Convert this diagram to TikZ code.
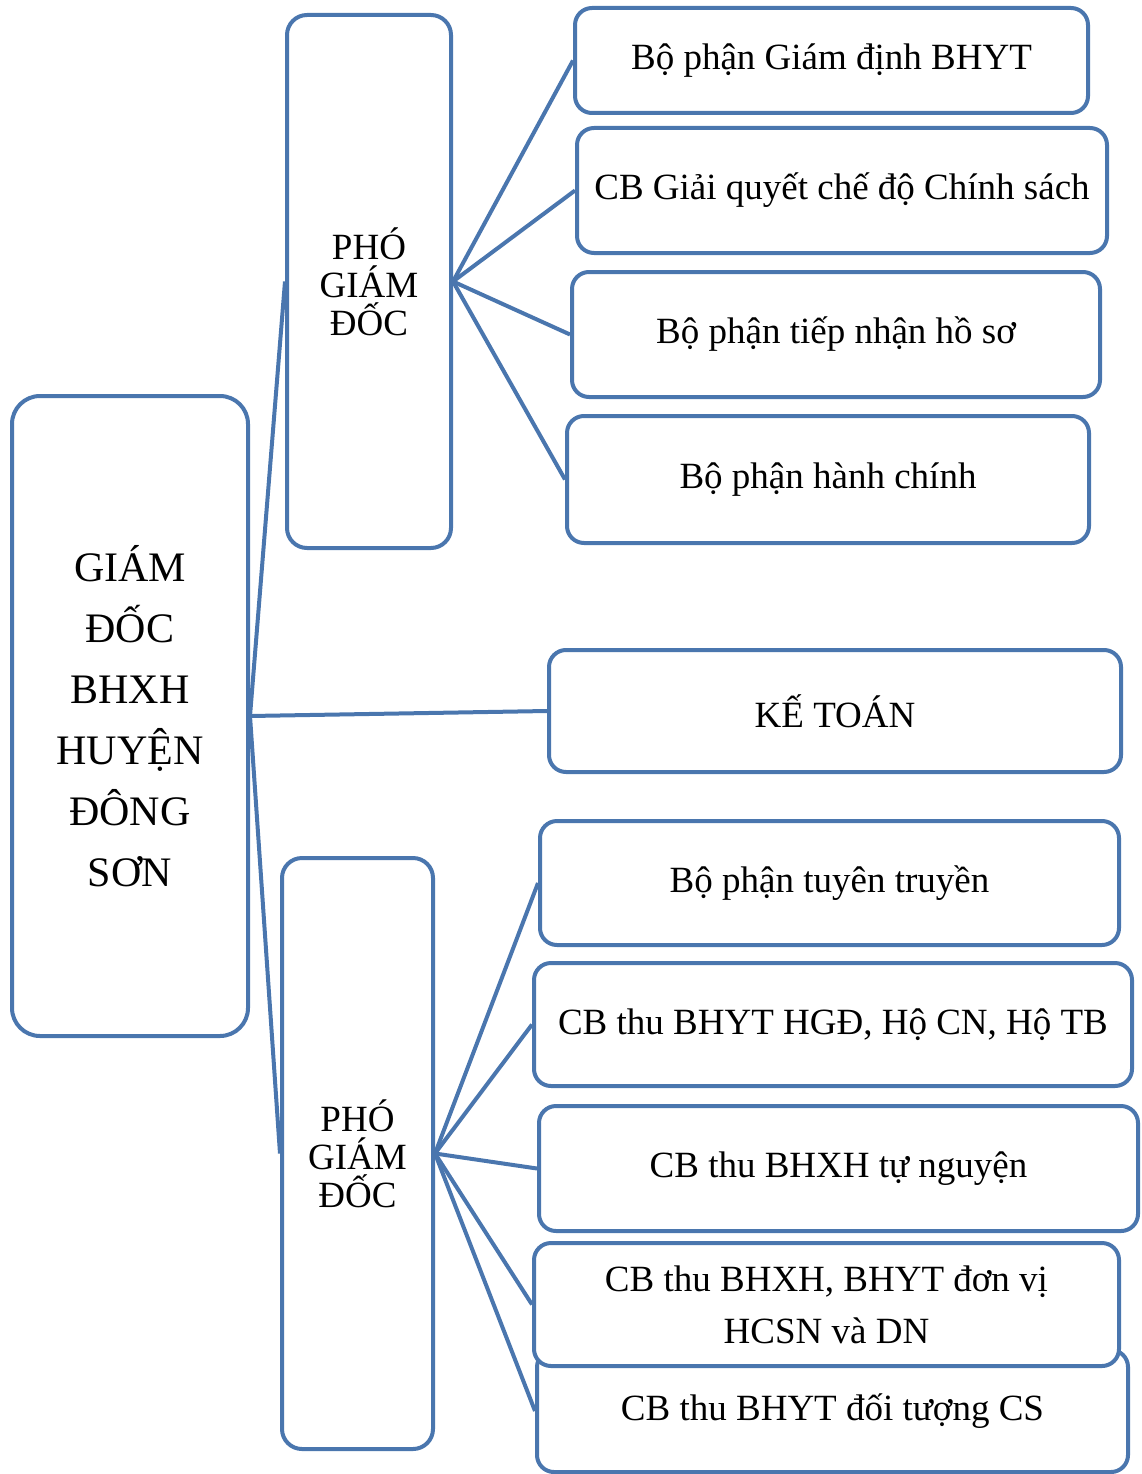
\documentclass[tikz,border=0pt]{standalone}
\usepackage{fontspec}
\setmainfont{Liberation Serif}
\definecolor{bl}{RGB}{74,118,174}
\begin{document}
\begin{tikzpicture}[x=1pt,y=-1pt,
  box/.style={draw=bl, line width=4pt, rounded corners=17pt, fill=white, align=center, inner sep=0pt, font=\fontsize{37}{38}\selectfont},
  link/.style={draw=bl, line width=4pt}]
\useasboundingbox (0,0) rectangle (1142,1474);
% main
\node[box, rounded corners=28pt, minimum width=236pt, minimum height=640pt, font=\fontsize{42}{61}\selectfont] (gd) at (130,716) {GIÁM\\ĐỐC\\BHXH\\HUYỆN\\ĐÔNG\\SƠN};
% deputies
\node[box, rounded corners=20pt, minimum width=164pt, minimum height=533pt] (p1) at (369,281.5) {PHÓ\\GIÁM\\ĐỐC};
\node[box, rounded corners=20pt, minimum width=151pt, minimum height=591pt] (p2) at (357.5,1153.5) {PHÓ\\GIÁM\\ĐỐC};
% upper group
\node[box, minimum width=513pt, minimum height=105pt] (a1) at (831.5,60.5) {Bộ phận Giám định BHYT};
\node[box, minimum width=530pt, minimum height=125pt] (a2) at (842,190.5) {CB Giải quyết chế độ Chính sách};
\node[box, minimum width=528pt, minimum height=125pt] (a3) at (836,334.5) {Bộ phận tiếp nhận hồ sơ};
\node[box, minimum width=522pt, minimum height=127pt] (a4) at (828,479.5) {Bộ phận hành chính};
% accountant
\node[box, minimum width=572pt, minimum height=122pt] (kt) at (835,711) {KẾ TOÁN};
% lower group
\node[box, minimum width=579pt, minimum height=124pt] (b1) at (829.5,883) {Bộ phận tuyên truyền};
\node[box, minimum width=598pt, minimum height=123pt] (b2) at (833,1024.5) {CB thu BHYT HGĐ, Hộ CN, Hộ TB};
\node[box, minimum width=599pt, minimum height=125pt] (b3) at (838.5,1168.5) {CB thu BHXH tự nguyện};
\node[box, minimum width=591pt, minimum height=122pt] (b5) at (832.5,1411) {CB thu BHYT đối tượng CS};
\node[box, minimum width=585pt, minimum height=123pt, font=\fontsize{37}{52}\selectfont] (b4) at (826.5,1304.5) {CB thu BHXH, BHYT đơn vị\\HCSN và DN};
% connectors
\draw[link] (gd.east) -- (p1.west);
\draw[link] (gd.east) -- (kt.west);
\draw[link] (gd.east) -- (p2.west);
\foreach \t in {a1,a2,a3,a4} \draw[link] (p1.east) -- (\t.west);
\foreach \t in {b1,b2,b3,b4,b5} \draw[link] (p2.east) -- (\t.west);
\end{tikzpicture}
\end{document}
